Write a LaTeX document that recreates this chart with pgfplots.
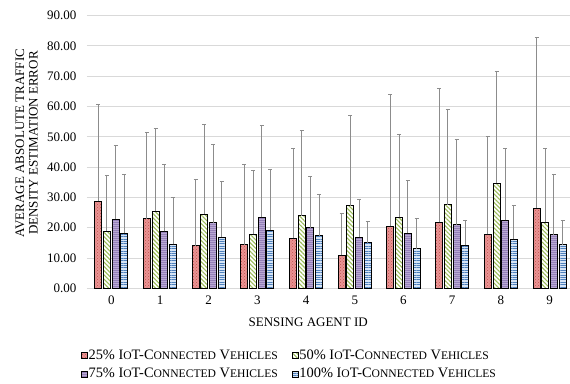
\documentclass[border=0pt]{standalone}
\usepackage{fontspec}
\setmainfont{Liberation Serif}
\usepackage{pgfplots}
\usepackage{pgfplotstable}
\pgfplotsset{compat=1.18}
\usetikzlibrary{patterns,patterns.meta}
\definecolor{rfill}{HTML}{E99494}
\definecolor{rpat}{HTML}{C0504D}
\definecolor{gpat}{HTML}{9BBB59}
\definecolor{pfill}{HTML}{9580B8}
\definecolor{ppat}{HTML}{B9A9D3}
\definecolor{bfill}{HTML}{D6E4F5}
\definecolor{bpat}{HTML}{4F81BD}
\definecolor{gridc}{HTML}{D9D9D9}
\definecolor{errc}{HTML}{8C8C8C}
\newcommand\sm[1]{{\fontsize{11.6}{13}\selectfont #1}}
\newcommand\iot{I\sm{O}T-C\sm{ONNECTED} V\sm{EHICLES}}
% x, mean, upper end of error bar
\pgfplotstableread{
x r rt g gt p pt b bt
0 28.8 60.7 18.9 37.3 22.8 47.2 18.2 37.7
1 23.0 51.5 25.4 52.8 18.8 40.9 14.5 29.9
2 14.1 35.8 24.5 54.1 21.6 47.5 16.9 35.2
3 14.4 40.8 17.8 39.0 23.4 53.8 19.2 39.3
4 16.5 46.2 24.0 52.2 20.0 37.0 17.4 30.9
5 10.9 24.8 27.3 57.0 16.9 29.4 15.0 22.1
6 20.5 64.1 23.4 50.9 18.2 35.7 13.1 23.2
7 21.8 66.1 27.6 59.1 21.0 49.0 14.2 22.4
8 17.8 50.2 34.7 71.5 22.4 46.1 16.2 27.2
9 26.5 82.7 21.8 46.2 17.7 37.7 14.4 22.3
}\data
\begin{document}
\fontsize{13}{15}\selectfont
\begin{tikzpicture}
\begin{axis}[
  scale only axis,
  width=483pt, height=272.6pt,
  ybar=1.7pt, bar width=7pt,
  xmin=-0.5, xmax=9.42,
  ymin=0, ymax=90,
  ytick={0,10,...,90},
  xtick={0,...,9},
  major tick length=0pt,
  axis line style={draw=none},
  ymajorgrids, grid style={gridc, line width=1pt},
  /pgf/number format/assume math mode=true,
  yticklabel style={xshift=-6pt, /pgf/number format/.cd, fixed, fixed zerofill, precision=2},
  xticklabel style={yshift=-3pt},
  tick label style={font=\fontsize{13}{15}\selectfont},
  xlabel={SENSING AGENT ID},
  xlabel style={at={(axis description cs:0.458,-0.124)}, anchor=center, font=\fontsize{13}{15}\selectfont},
  ylabel={AVERAGE ABSOLUTE TRAFFIC\\DENSITY ESTIMATION ERROR},
  ylabel style={align=center, at={(axis description cs:-0.125,0.533)}, anchor=center, font=\fontsize{13}{13.5}\selectfont},
  legend style={draw=none, fill=none, at={(axis description cs:0.418,-0.28)}, anchor=center,
    font=\fontsize{14.4}{16}\selectfont, row sep=7pt,
    nodes={inner xsep=1pt, inner ysep=0pt},
    /tikz/every even column/.append style={column sep=13pt}},
  legend columns=2,
  legend cell align=left,
  legend image code/.code={\draw[#1, line width=0.7pt] (0pt,-3pt) rectangle (6pt,3pt);},
  error bars/y dir=plus, error bars/y explicit,
  error bars/error bar style={errc, line width=1pt},
  error bars/error mark options={rotate=90, errc, mark size=2pt, line width=1pt},
]
\addplot[draw=black, line width=1pt, fill=rfill, postaction={pattern=crosshatch dots, pattern color=rpat}]
  table[x=x, y=r, y error expr=\thisrow{rt}-\thisrow{r}]{\data};
\addplot[draw=black, line width=1pt, fill=white, postaction={pattern={Lines[angle=-45,distance=3pt,line width=1.1pt]}, pattern color=gpat}]
  table[x=x, y=g, y error expr=\thisrow{gt}-\thisrow{g}]{\data};
\addplot[draw=black, line width=1pt, fill=pfill, postaction={pattern={Lines[angle=0,distance=2pt,line width=0.4pt]}, pattern color=ppat}]
  table[x=x, y=p, y error expr=\thisrow{pt}-\thisrow{p}]{\data};
\addplot[draw=black, line width=1pt, fill=bfill, postaction={pattern={Lines[angle=0,distance=2.4pt,line width=1pt]}, pattern color=bpat}]
  table[x=x, y=b, y error expr=\thisrow{bt}-\thisrow{b}]{\data};
\legend{25\% \iot, 50\% \iot, 75\% \iot, 100\% \iot}
\end{axis}
\pgfresetboundingbox
\path[use as bounding box] (-87pt,-94.7pt) rectangle (483pt,288.3pt);
\end{tikzpicture}
\end{document}
